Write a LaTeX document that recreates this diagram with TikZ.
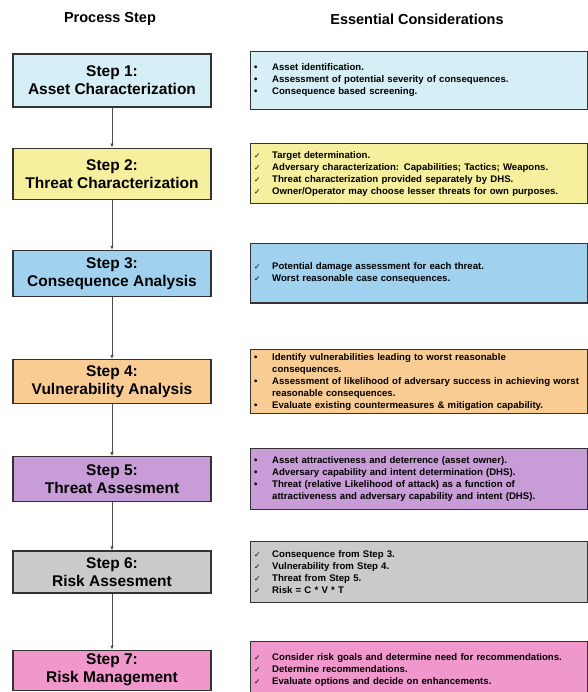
\documentclass[tikz,border=0pt]{standalone}
\usepackage{fontspec}
\setmainfont{Liberation Sans}
\newfontfamily\symfont{DejaVu Sans}
\usepackage{xcolor}
\usetikzlibrary{positioning}
\usetikzlibrary{arrows.meta}

\definecolor{assetcol}{RGB}{214,238,246}
\definecolor{threatcol}{RGB}{246,240,158}
\definecolor{conscol}{RGB}{160,210,240}
\definecolor{vulncol}{RGB}{249,204,148}
\definecolor{assesscol}{RGB}{200,156,214}
\definecolor{riskcol}{RGB}{202,202,202}
\definecolor{mgmtcol}{RGB}{240,152,204}

\newcommand{\chk}{\makebox[18pt][l]{{\symfont\fontsize{7.5}{7.5}\selectfont ✓}}}
\newcommand{\bul}{\makebox[18pt][l]{\textbullet}}
\newcommand{\ind}{\hspace*{18pt}}

\tikzset{
  stepbox/.style={
    draw=black!80, line width=1.2pt,
    minimum width=198pt, minimum height=46pt,
    align=center, inner sep=2pt,
    font=\bfseries\fontsize{15.5}{18}\selectfont,
  },
  notebox/.style={
    draw=black!80, line width=1.2pt,
    minimum height=59pt, text width=329pt, inner xsep=4pt,
    align=left,
    font=\bfseries\fontsize{9.6}{12}\selectfont,
  },
  flow/.style={
    draw=black!70, line width=0.8pt,
    -{Latex[length=4pt,width=3.5pt]},
  },
  header/.style={font=\bfseries\fontsize{14.5}{17}\selectfont},
}

\begin{document}
\begin{tikzpicture}[x=1pt, y=-1pt]

  \useasboundingbox (0,0) rectangle (587,692);

  % Headers
  \node[header] (head_step) at (110,19) {Process Step};
  \node[header] (head_cons) at (417,19) {Essential Considerations};

  % Define nodes
  \node[stepbox, fill=assetcol, minimum height=53pt] (s1) at (112,80.5) {Step 1:\\Asset Characterization};
  \node[stepbox, fill=threatcol, minimum height=51pt, below=40pt of s1] (s2) {Step 2:\\Threat Characterization};
  \node[stepbox, fill=conscol, below=50pt of s2] (s3) {Step 3:\\Consequence Analysis};
  \node[stepbox, fill=vulncol, minimum height=44pt, below=62pt of s3] (s4) {Step 4:\\Vulnerability Analysis};
  \node[stepbox, fill=assesscol, minimum height=45pt, below=52pt of s4] (s5) {Step 5:\\Threat Assesment};
  \node[stepbox, fill=riskcol, minimum height=42pt, below=48pt of s5] (s6) {Step 6:\\Risk Assesment};
  \node[stepbox, fill=mgmtcol, minimum height=40pt, below=56pt of s6] (s7) {Step 7:\\Risk Management};

  \node[notebox, fill=assetcol, minimum height=58pt, right=38pt of s1] (c1) {%
    \bul Asset identification.\\
    \bul Assessment of potential severity of consequences.\\
    \bul Consequence based screening.};
  \node[notebox, fill=threatcol, minimum height=60pt, right=38pt of s2] (c2) {%
    \chk Target determination.\\
    \chk Adversary characterization: Capabilities; Tactics; Weapons.\\
    \chk Threat characterization provided separately by DHS.\\
    \chk Owner/Operator may choose lesser threats for own purposes.};
  \node[notebox, fill=conscol, right=38pt of s3] (c3) {%
    \chk Potential damage assessment for each threat.\\
    \chk Worst reasonable case consequences.};
  \node[notebox, fill=vulncol, right=38pt of s4] (c4) {%
    \bul Identify vulnerabilities leading to worst reasonable\\
    \ind consequences.\\
    \bul Assessment of likelihood of adversary success in achieving worst\\
    \ind reasonable consequences.\\
    \bul Evaluate existing countermeasures \& mitigation capability.};
  \node[notebox, fill=assesscol, minimum height=61pt, right=38pt of s5] (c5) {%
    \bul Asset attractiveness and deterrence (asset owner).\\
    \bul Adversary capability and intent determination (DHS).\\
    \bul Threat (relative Likelihood of attack) as a function of\\
    \ind attractiveness and adversary capability and intent (DHS).};
  \node[notebox, fill=riskcol, minimum height=61pt, right=38pt of s6] (c6) {%
    \chk Consequence from Step 3.\\
    \chk Vulnerability from Step 4.\\
    \chk Threat from Step 5.\\
    \chk Risk = C * V * T};
  \node[notebox, fill=mgmtcol, minimum height=58pt, right=38pt of s7] (c7) {%
    \chk Consider risk goals and determine need for recommendations.\\
    \chk Determine recommendations.\\
    \chk Evaluate options and decide on enhancements.};

  % Connect nodes
  \draw[flow] (s1) -- (s2);
  \draw[flow] (s2) -- (s3);
  \draw[flow] (s3) -- (s4);
  \draw[flow] (s4) -- (s5);
  \draw[flow] (s5) -- (s6);
  \draw[flow] (s6) -- (s7);

\end{tikzpicture}
\end{document}
